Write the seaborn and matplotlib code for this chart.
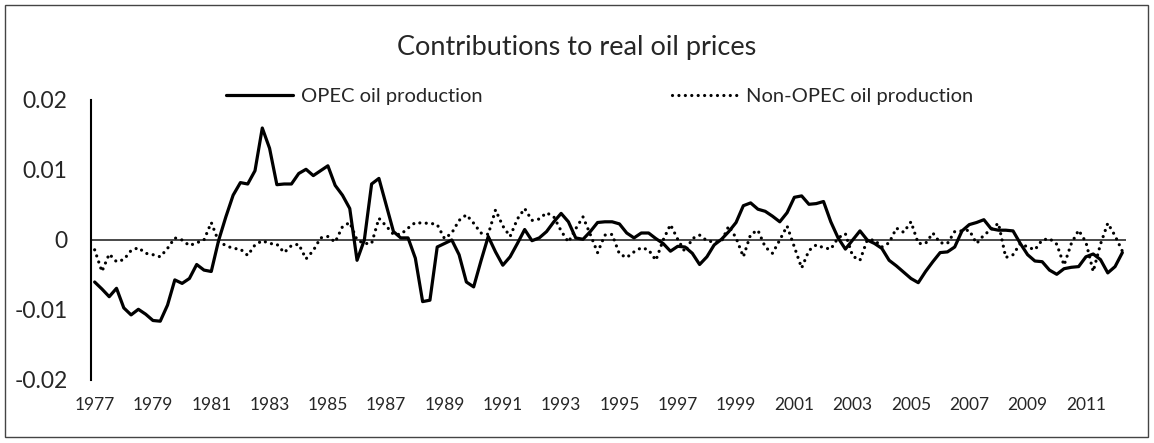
import numpy as np
import pandas as pd
import seaborn as sns
import matplotlib.pyplot as plt
from matplotlib.patches import Rectangle

# quarterly contributions, 1977Q1 - 2012Q2
opec = [
    -0.0060, -0.0070, -0.0081, -0.0069, -0.0097, -0.0107, -0.0099, -0.0106,
    -0.0115, -0.0116, -0.0093, -0.0057, -0.0062, -0.0055, -0.0035, -0.0043,
    -0.0045, -0.0001, 0.0033, 0.0064, 0.0082, 0.0080, 0.0099, 0.0160,
    0.0131, 0.0079, 0.0080, 0.0080, 0.0095, 0.0101, 0.0092, 0.0099,
    0.0106, 0.0078, 0.0064, 0.0045, -0.0029, 0.0000, 0.0080, 0.0088,
    0.0050, 0.0012, 0.0003, 0.0003, -0.0026, -0.0088, -0.0086, -0.0010,
    -0.0005, 0.0000, -0.0021, -0.0060, -0.0067, -0.0030, 0.0005, -0.0017,
    -0.0036, -0.0024, -0.0005, 0.0015, -0.0001, 0.0003, 0.0012, 0.0026,
    0.0038, 0.0026, 0.0003, 0.0001, 0.0012, 0.0025, 0.0026, 0.0026,
    0.0023, 0.0010, 0.0003, 0.0010, 0.0010, 0.0002, -0.0005, -0.0016,
    -0.0009, -0.0010, -0.0019, -0.0035, -0.0024, -0.0007, 0.0001, 0.0012,
    0.0025, 0.0049, 0.0053, 0.0044, 0.0041, 0.0034, 0.0026, 0.0039,
    0.0061, 0.0063, 0.0051, 0.0052, 0.0055, 0.0026, 0.0003, -0.0013,
    0.0000, 0.0013, 0.0000, -0.0005, -0.0012, -0.0029, -0.0037, -0.0046,
    -0.0055, -0.0061, -0.0045, -0.0031, -0.0018, -0.0017, -0.0010, 0.0013,
    0.0022, 0.0025, 0.0029, 0.0016, 0.0014, 0.0014, 0.0013, -0.0005,
    -0.0021, -0.0030, -0.0031, -0.0043, -0.0049, -0.0041, -0.0039, -0.0038,
    -0.0024, -0.0020, -0.0028, -0.0047, -0.0038, -0.0018,
]
non_opec = [
    -0.0014, -0.0045, -0.0020, -0.0031, -0.0028, -0.0015, -0.0011, -0.0019,
    -0.0021, -0.0024, -0.0012, 0.0003, 0.0000, -0.0008, -0.0004, 0.0000,
    0.0025, -0.0002, -0.0008, -0.0012, -0.0013, -0.0022, -0.0007, -0.0001,
    -0.0005, -0.0006, -0.0018, -0.0008, -0.0006, -0.0027, -0.0015, 0.0003,
    0.0005, -0.0003, 0.0019, 0.0025, 0.0000, -0.0005, -0.0005, 0.0031,
    0.0020, 0.0008, 0.0008, 0.0017, 0.0025, 0.0024, 0.0024, 0.0022,
    0.0002, 0.0010, 0.0028, 0.0036, 0.0024, 0.0010, 0.0008, 0.0043,
    0.0020, 0.0005, 0.0030, 0.0045, 0.0028, 0.0030, 0.0039, 0.0033,
    0.0013, -0.0003, 0.0016, 0.0033, 0.0008, -0.0018, 0.0007, 0.0008,
    -0.0020, -0.0025, -0.0017, -0.0011, -0.0014, -0.0029, 0.0000, 0.0022,
    0.0001, -0.0017, 0.0002, 0.0007, -0.0001, -0.0003, -0.0002, 0.0020,
    0.0003, -0.0024, 0.0008, 0.0014, -0.0010, -0.0019, 0.0000, 0.0020,
    -0.0010, -0.0040, -0.0015, -0.0007, -0.0011, -0.0013, 0.0003, 0.0009,
    -0.0023, -0.0029, 0.0000, 0.0000, -0.0010, -0.0004, 0.0017, 0.0011,
    0.0026, -0.0005, -0.0005, 0.0010, -0.0004, -0.0005, 0.0012, 0.0013,
    0.0014, -0.0005, 0.0007, 0.0015, 0.0024, -0.0025, -0.0021, -0.0005,
    -0.0010, -0.0014, 0.0000, 0.0002, -0.0006, -0.0036, -0.0005, 0.0014,
    -0.0003, -0.0045, -0.0006, 0.0024, 0.0006, -0.0016,
]
year_labels = [str(y) for y in range(1977, 2012, 2)]
y_ticks = [-0.02, -0.01, 0, 0.01, 0.02]
y_labels = ["-0.02", "-0.01", "0", "0.01", "0.02"]

df = pd.DataFrame({"t": np.arange(len(opec)), "opec": opec, "non_opec": non_opec})

sns.set_style("white")
plt.rcParams["font.family"] = ["Lato", "DejaVu Sans"]

fig = plt.figure(figsize=(11.54, 4.43), dpi=100)
ax = fig.add_axes([91 / 1154, 1 - 380 / 443, 1035 / 1154, 280 / 443])

ax.axhline(0, color="#3a3a3a", lw=1.3, zorder=1)
sns.lineplot(data=df, x="t", y="opec", ax=ax, color="black", lw=2.3,
             label="OPEC oil production", zorder=3)
sns.lineplot(data=df, x="t", y="non_opec", ax=ax, color="black", lw=2.3,
             linestyle=(0, (0.01, 2.0)), dash_capstyle="round",
             label="Non-OPEC oil production", zorder=2)

ax.set_xlim(-0.5, len(opec) - 0.5)
ax.set_ylim(-0.02, 0.02)
ax.set_xticks(np.arange(0, len(opec), 8))
ax.set_xticklabels(year_labels, fontsize=12.5)
ax.set_yticks(y_ticks)
ax.set_yticklabels(y_labels, fontsize=16.5)
ax.tick_params(axis="x", length=0, pad=12)
ax.tick_params(axis="y", length=0, pad=17)
ax.set_xlabel("")
ax.set_ylabel("")
for s in ["top", "right", "bottom"]:
    ax.spines[s].set_visible(False)
ax.spines["left"].set_color("black")
ax.spines["left"].set_linewidth(1.5)

handles, labels = ax.get_legend_handles_labels()
ax.legend_.remove()
fig.legend(handles, labels, loc="center", bbox_to_anchor=(600 / 1154, 1 - 96 / 443),
           ncol=2, frameon=False, fontsize=14.5, handlelength=3.3,
           handletextpad=0.4, columnspacing=9.4)

fig.text(0.5, 1 - 47 / 443, "Contributions to real oil prices", ha="center",
         va="center", fontsize=19.5)

fig.patches.append(Rectangle((5 / 1154, 6 / 443), 1143 / 1154, 432 / 443,
                             transform=fig.transFigure, fill=False,
                             edgecolor="#444444", lw=1.0))

fig.savefig("out.png", dpi=100)
